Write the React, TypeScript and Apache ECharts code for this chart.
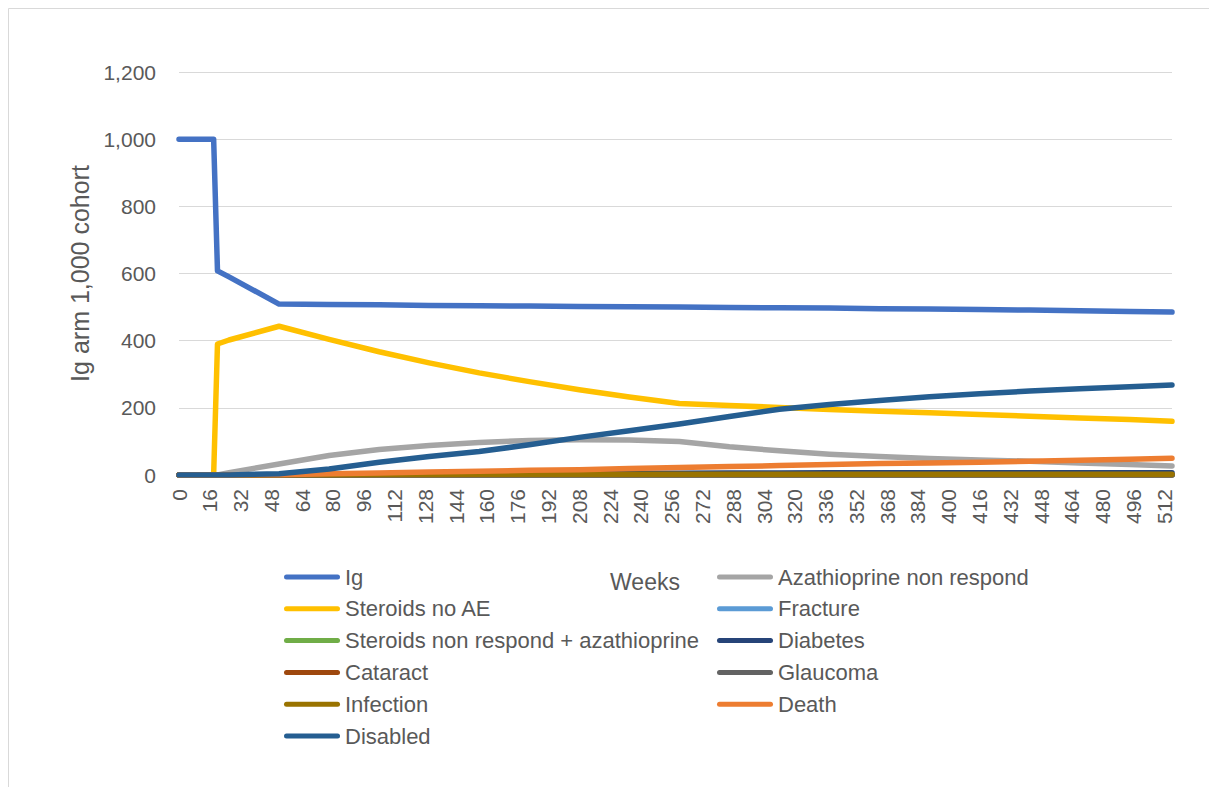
import React, { useEffect, useRef } from "react";
import * as echarts from "echarts";

const weeks = [0, 18, 20, 26, 52, 78, 104, 130, 156, 182, 208, 234, 260, 286, 312, 338, 364, 390, 416, 442, 468, 494, 516];

const igValues = [1000, 1000, 608, 590, 509, 508, 507, 505, 504, 503, 502, 501, 500, 499, 498, 497, 495, 494, 493, 491, 489, 487, 485];
const azathioprineNonRespond = [0, 0, 0, 7, 33, 58, 76, 88, 97, 103, 105, 104, 100, 84, 72, 62, 55, 49, 45, 41, 36, 31, 27];
const steroidsNoAE = [0, 0, 390, 402, 443, 404, 367, 334, 304, 278, 254, 232, 213, 207, 201, 195, 190, 185, 180, 175, 170, 165, 160];
const fracture = [0, 0, 0, 0, 0, 0, 0, 0, 0, 0, 0, 0, 0, 0, 0, 0, 0, 0, 0, 0, 0, 0, 0];
const steroidsNonRespondAza = [0, 0, 0, 0, 0, 0, 0, 0, 0, 0, 0, 0, 0, 0, 0, 0, 0, 0, 0, 0, 0, 0, 0];
const diabetes = [0, 0, 0, 0, 0.5, 1, 2, 3, 3.5, 4, 4.5, 5, 5.5, 6, 6, 6.5, 6.5, 7, 7, 7, 7, 7, 7];
const cataract = [0, 0, 0, 0, 0, 0, 0, 0, 0, 0, 0, 0, 0, 0, 0, 0, 0, 0, 0, 0, 0, 0, 0];
const glaucoma = [0, 0, 0, 0, 0, 0, 0, 0, 0, 0, 0, 0, 0, 0, 0, 0, 0, 0, 0, 0, 0, 0, 0];
const infection = [0, 0, 0, 0, 0.5, 1, 1.5, 1.5, 2, 2, 2, 2, 2, 2, 2, 2, 2, 2, 2, 2, 2, 2, 2];
const death = [0, 0, 0, 0, 1, 4, 6, 9, 11, 14, 16, 19, 22, 25, 28, 31, 34, 36, 38, 41, 44, 47, 50];
const disabled = [0, 0, 0, 0, 4, 18, 38, 55, 70, 90, 112, 132, 152, 174, 196, 210, 222, 233, 242, 250, 257, 263, 268];

const seriesDefs = [
  { name: "Ig", values: igValues, color: "#4472C4" },
  { name: "Azathioprine non respond", values: azathioprineNonRespond, color: "#A5A5A5" },
  { name: "Steroids no AE", values: steroidsNoAE, color: "#FFC000" },
  { name: "Fracture", values: fracture, color: "#5B9BD5" },
  { name: "Steroids non respond + azathioprine", values: steroidsNonRespondAza, color: "#70AD47" },
  { name: "Diabetes", values: diabetes, color: "#264478" },
  { name: "Cataract", values: cataract, color: "#9E480E" },
  { name: "Glaucoma", values: glaucoma, color: "#636363" },
  { name: "Infection", values: infection, color: "#997300" },
  { name: "Death", values: death, color: "#ED7D31" },
  { name: "Disabled", values: disabled, color: "#255E91" },
];

const legendLeft = ["Ig", "Steroids no AE", "Steroids non respond + azathioprine", "Cataract", "Infection", "Disabled"];
const legendRight = ["Azathioprine non respond", "Fracture", "Diabetes", "Glaucoma", "Death"];

const FONT = '"Liberation Sans", Arial, sans-serif';
const TEXT = "#595959";
const GRID = "#D9D9D9";

const legendIcon = "path://M2.5,0 L53.5,0 A2.5,2.5 0 0 1 53.5,5 L2.5,5 A2.5,2.5 0 0 1 2.5,0 Z";

export default function App() {
  const ref = useRef<HTMLDivElement>(null);
  useEffect(() => {
    if (!ref.current) return;
    const chart = echarts.init(ref.current, null, { renderer: "svg" });
    const legendBase = {
      orient: "vertical",
      top: 565,
      padding: 0,
      itemWidth: 56,
      itemHeight: 5,
      itemGap: 7.8,
      icon: legendIcon,
      selectedMode: false,
      textStyle: { fontSize: 22, lineHeight: 24, color: TEXT, fontFamily: FONT },
    };
    chart.setOption({
      animation: false,
      backgroundColor: "#ffffff",
      textStyle: { fontFamily: FONT },
      grid: { left: 179, right: 37, top: 72, bottom: 312, containLabel: false },
      legend: [
        { ...legendBase, left: 284, data: legendLeft },
        { ...legendBase, left: 717, data: legendRight },
      ],
      graphic: [
        {
          type: "rect",
          shape: { x: 8.5, y: 8.5, width: 1400, height: 1000 },
          style: { fill: "none", stroke: GRID, lineWidth: 1 },
          silent: true,
        },
        {
          type: "text",
          x: 645,
          y: 582,
          style: {
            text: "Weeks",
            fontSize: 23,
            fontFamily: FONT,
            fill: TEXT,
            align: "center",
            verticalAlign: "middle",
          },
          silent: true,
        },
      ],
      xAxis: {
        type: "value",
        min: 0,
        max: 516,
        interval: 16,
        axisLine: { show: true, lineStyle: { color: GRID, width: 1 } },
        axisTick: { show: false },
        splitLine: { show: false },
        axisLabel: {
          rotate: 90,
          fontSize: 21,
          color: TEXT,
          fontFamily: FONT,
          margin: 14,
          showMaxLabel: false,
          showMinLabel: true,
        },
      },
      yAxis: {
        type: "value",
        min: 0,
        max: 1200,
        interval: 200,
        name: "Ig arm 1,000 cohort",
        nameLocation: "middle",
        nameGap: 87,
        nameTextStyle: { fontSize: 25, color: TEXT, fontFamily: FONT },
        axisLine: { show: false },
        axisTick: { show: false },
        splitLine: { lineStyle: { color: GRID, width: 1 } },
        axisLabel: {
          fontSize: 21,
          color: TEXT,
          fontFamily: FONT,
          margin: 23,
          formatter: (v: number) => v.toLocaleString("en-US"),
        },
      },
      series: seriesDefs.map((s) => ({
        name: s.name,
        type: "line",
        showSymbol: false,
        symbol: "none",
        color: s.color,
        lineStyle: { color: s.color, width: 5.5, cap: "round", join: "round" },
        data: weeks.map((w, i) => [w, s.values[i]]),
      })),
    });
    return () => chart.dispose();
  }, []);
  return (
    <div
      ref={ref}
      style={{ position: "fixed", left: 0, top: 0, width: 1209, height: 787 }}
    />
  );
}
